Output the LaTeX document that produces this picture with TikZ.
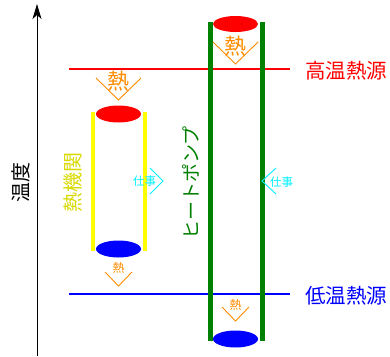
\documentclass[tikz,border=0pt]{standalone}
\usepackage{fontspec}
\newfontfamily\jp{Noto Sans CJK JP}
\usetikzlibrary{shapes.geometric,arrows.meta}
\definecolor{heatorange}{RGB}{255,140,0}
\definecolor{hpgreen}{RGB}{0,128,0}
\definecolor{workcyan}{RGB}{0,240,255}
\definecolor{engyellow}{RGB}{255,255,0}
\tikzset{
  lbl/.style={inner sep=0pt, font=\jp},
  res/.style={line width=2pt},
  wall/.style={line width=4pt},
  hpwall/.style={line width=5pt, hpgreen},
  chev/.style={line width=0.9pt, heatorange},
  wchev/.style={line width=0.9pt, workcyan},
  blob/.style={ellipse, inner sep=0pt, minimum width=45pt, minimum height=17pt, draw=none},
  bigheat/.style={lbl, heatorange, font=\jp\fontsize{22}{22}\selectfont},
  smallheat/.style={lbl, heatorange, font=\jp\fontsize{12}{12}\selectfont},
}
\begin{document}
\begin{tikzpicture}[x=1pt,y=-1pt]
\useasboundingbox (0,0) rectangle (390,356);
% axis
\coordinate (axb) at (37,356);
\coordinate (axt) at (37,4);
\draw[line width=1pt, -{Stealth[length=15pt,width=9pt,inset=4pt]}] (axb) -- (axt);
\node[lbl, rotate=90, font=\jp\fontsize{20}{20}\selectfont] (temp) at (21,182) {温度};
% reservoirs
\coordinate (hl) at (69,69); \coordinate (hr) at (290,69);
\coordinate (ll) at (69,294); \coordinate (lr) at (290,294);
\draw[res, red] (hl) -- (hr);
\draw[res, blue] (ll) -- (lr);
\node[lbl, red, font=\jp\fontsize{20.5}{20.5}\selectfont] (hot) at (346,71) {高温熱源};
\node[lbl, blue, font=\jp\fontsize{20.5}{20.5}\selectfont] (cold) at (346,296) {低温熱源};
% heat engine
\coordinate (e1t) at (93,112); \coordinate (e1b) at (93,251);
\coordinate (e2t) at (145,112); \coordinate (e2b) at (145,251);
\draw[wall, engyellow] (e1t) -- (e1b);
\draw[wall, engyellow] (e2t) -- (e2b);
\node[blob, fill=red] (etop) at (118.5,114) {};
\node[blob, fill=blue] (ebot) at (118.5,249) {};
\node[lbl, rotate=90, engyellow!85!black, font=\jp\fontsize{20}{20}\selectfont] (eng) at (73,182) {熱機関};
% heat into engine
\node[bigheat] (q1) at (118.5,81) {熱};
\draw[chev] (96,78) -- (118.5,100) -- (141,78);
% heat out of engine
\node[smallheat] (q2) at (118.5,268) {熱};
\draw[chev] (105,272) -- (118.5,286) -- (132,272);
% work from engine
\node[lbl, workcyan, font=\jp\fontsize{11.5}{11.5}\selectfont] (w1) at (144.5,181) {仕事};
\draw[wchev] (150,168) -- (163,181) -- (150,194);
% heat pump
\coordinate (p1t) at (210,22); \coordinate (p1b) at (210,341);
\coordinate (p2t) at (262,22); \coordinate (p2b) at (262,341);
\draw[hpwall] (p1t) -- (p1b);
\draw[hpwall] (p2t) -- (p2b);
\node[blob, fill=red, minimum height=16pt] (ptop) at (235.5,24) {};
\node[blob, fill=blue] (pbot) at (235.5,339) {};
\node[lbl, rotate=90, hpgreen, font=\jp\fontsize{19}{19}\selectfont] (hp) at (191,183) {ヒートポンプ};
% heat out of pump (top)
\node[bigheat] (q3) at (235.5,46) {熱};
\draw[chev] (213,42) -- (235.5,64) -- (258,42);
% heat into pump (bottom)
\node[smallheat] (q4) at (235.5,305) {熱};
\draw[chev] (222,307) -- (235.5,321) -- (249,307);
% work into pump
\node[lbl, workcyan, font=\jp\fontsize{11.5}{11.5}\selectfont] (w2) at (281.5,182) {仕事};
\draw[wchev] (276,168) -- (262,181) -- (276,194);
\end{tikzpicture}
\end{document}
